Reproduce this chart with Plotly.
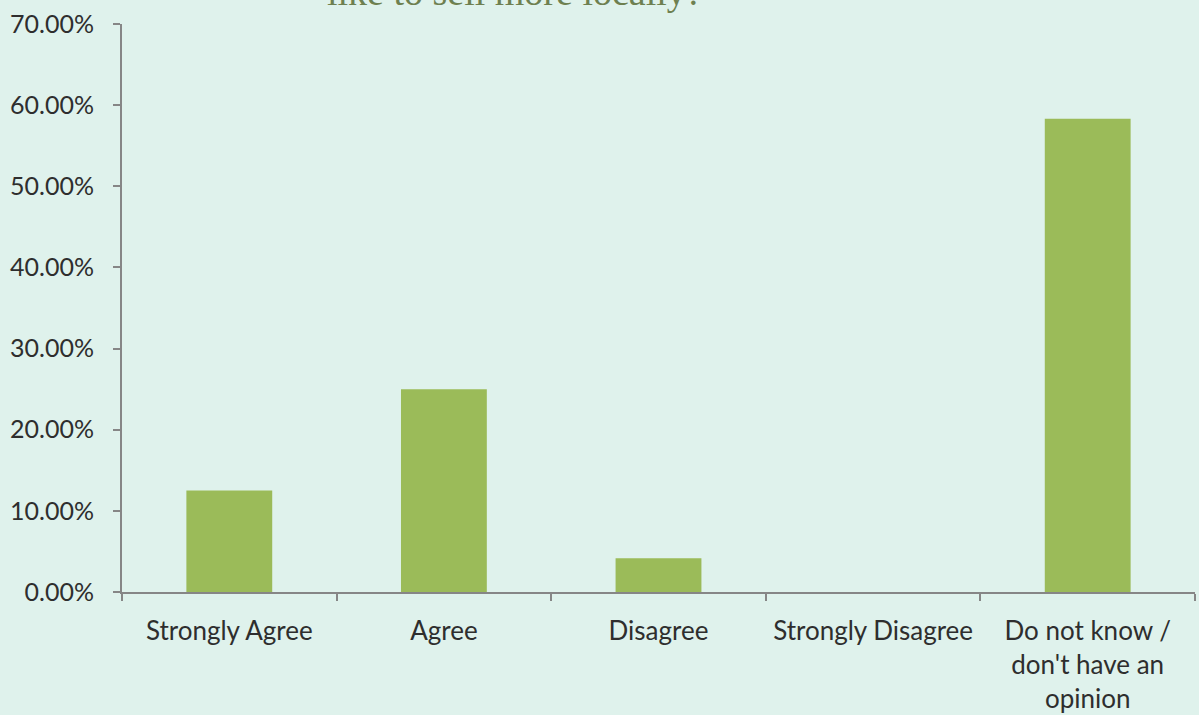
import plotly.graph_objects as go

categories = ["Strongly Agree", "Agree", "Disagree", "Strongly Disagree",
              "Do not know /<br>don't have an<br>opinion"]
values = [12.5, 25.0, 4.17, 0.0, 58.33]
y_ticks = [0, 10, 20, 30, 40, 50, 60, 70]
y_tick_labels = ["0.00%", "10.00%", "20.00%", "30.00%", "40.00%", "50.00%", "60.00%", "70.00%"]
title_text = "like to sell more locally?"

bg = "#DFF2EC"
axis_col = "#868686"

fig = go.Figure(go.Bar(x=categories, y=values, marker=dict(color="#9BBB59", line=dict(width=0))))

fig.update_layout(
    width=1199, height=715,
    paper_bgcolor=bg, plot_bgcolor=bg,
    margin=dict(l=122, r=4, t=24, b=123),
    bargap=0.6,
    showlegend=False,
    font=dict(family="Lato, Open Sans, sans-serif", size=26, color="#2E2E2E"),
    annotations=[dict(
        text=title_text, xref="paper", yref="paper", x=(515 - 122) / (1195 - 122), y=1,
        xanchor="center", yanchor="bottom", yshift=9, showarrow=False,
        font=dict(family="Liberation Serif, serif", size=38, color="#6E8050"),
    )],
)
fig.update_xaxes(
    showline=True, linecolor=axis_col, linewidth=2,
    ticks="outside", tickson="boundaries", ticklen=7, tickwidth=2, tickcolor=axis_col,
    showgrid=False, zeroline=False, range=[-0.5, 4.5], automargin=False,
    tickfont=dict(size=26), ticklabelstandoff=15,
)
fig.update_yaxes(
    range=[0, 70], tickvals=y_ticks, ticktext=y_tick_labels,
    showline=True, linecolor=axis_col, linewidth=2,
    ticks="outside", ticklen=7, tickwidth=2, tickcolor=axis_col,
    showgrid=False, zeroline=False, tickfont=dict(size=25), ticklabelstandoff=14,
    automargin=False,
)

fig.write_html("out.html", config={"displayModeBar": False},
               post_script="document.body.style.margin='0';document.body.style.padding='0';")
